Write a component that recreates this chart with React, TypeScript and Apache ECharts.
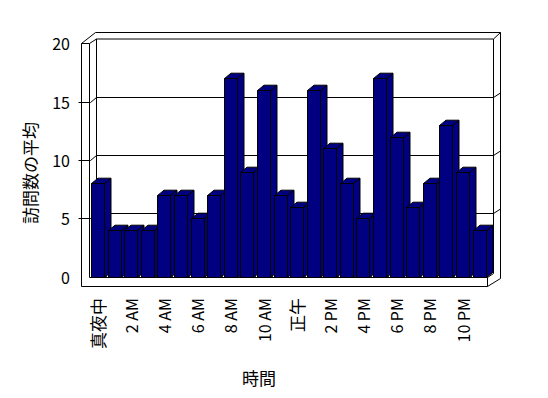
import React, { useEffect, useRef } from "react";
import * as echarts from "echarts";

const categories = [
  "真夜中", "1 AM", "2 AM", "3 AM", "4 AM", "5 AM", "6 AM", "7 AM", "8 AM", "9 AM", "10 AM", "11 AM",
  "正午", "1 PM", "2 PM", "3 PM", "4 PM", "5 PM", "6 PM", "7 PM", "8 PM", "9 PM", "10 PM", "11 PM",
];
const visits = [8, 4, 4, 4, 7, 7, 5, 7, 17, 9, 16, 7, 6, 16, 11, 8, 5, 17, 12, 6, 8, 13, 9, 4];
const gridValues = [5, 10, 15];
const yAxisTitle = "訪問数の平均";
const xAxisTitle = "時間";

const FONT = "'Noto Sans CJK JP', 'Noto Sans', sans-serif";
const BAR_COLOR = "#000080";
const DX = 6.5;
const DY = -5.3;
const BAR_W = 13.4;
const GL = 89.5;
const GRX = 487.5;
const GT = 43.3;
const GB = 276.7;
const W = 548;
const H = 398;

export default function App() {
  const ref = useRef<HTMLDivElement>(null);
  useEffect(() => {
    document.body.style.margin = "0";
    const chart = echarts.init(ref.current!, null, { renderer: "svg" });
    const faceStyle = { fill: BAR_COLOR, stroke: "#000", lineWidth: 1 };
    chart.setOption({
      animation: false,
      backgroundColor: "#ffffff",
      grid: { left: GL, right: W - GRX, top: GT, bottom: H - GB },
      xAxis: {
        type: "category",
        data: categories,
        offset: 9.3,
        axisLine: { show: false },
        axisTick: { show: true, inside: true, length: 9.3, interval: 0, lineStyle: { color: "#000", width: 1 } },
        axisLabel: {
          interval: 1,
          rotate: 90,
          margin: 12,
          fontSize: 16,
          color: "#000",
          fontFamily: FONT,
          formatter: (val: string) => (/[A-Za-z0-9]/.test(val) ? val : `{cjk|${val}}`),
          rich: { cjk: { fontSize: 17, color: "#000", fontFamily: FONT } },
        },
        splitLine: { show: false },
      },
      yAxis: {
        type: "value",
        min: 0,
        max: 20,
        interval: 5,
        offset: 7.5,
        axisLine: { show: false },
        axisTick: { show: false },
        splitLine: { show: false },
        axisLabel: { fontSize: 16, margin: 12, color: "#000", fontFamily: FONT },
      },
      series: [
        {
          type: "custom",
          z: 5,
          data: visits.map((v, i) => [i, v]),
          renderItem: (params: any, api: any) => {
            const i = api.value(0);
            const v = api.value(1);
            const top = api.coord([i, v]);
            const base = api.coord([i, 0]);
            const x0 = Math.round(top[0] - BAR_W / 2) + 0.5;
            const x1 = x0 + Math.round(BAR_W);
            const yT = Math.round(top[1]) + 0.5;
            const yB = Math.round(base[1]) + 0.5;
            return {
              type: "group",
              children: [
                {
                  type: "polygon",
                  shape: { points: [[x1, yT], [x1 + DX, yT + DY], [x1 + DX, yB + DY], [x1, yB]] },
                  style: faceStyle,
                },
                {
                  type: "polygon",
                  shape: { points: [[x0, yT], [x1, yT], [x1 + DX, yT + DY], [x0 + DX, yT + DY]] },
                  style: faceStyle,
                },
                {
                  type: "rect",
                  shape: { x: x0, y: yT, width: x1 - x0, height: yB - yT },
                  style: faceStyle,
                },
              ],
            };
          },
        },
      ],
    });

    const fy = (v: number) => chart.convertToPixel({ yAxisIndex: 0 }, v) as number;
    const yTopF = Math.round(fy(20)) + 0.5;
    const y0 = Math.round(fy(0)) + 0.5;
    const floorBot = y0 + 9;
    const FX = 81.5;
    const WX = 89.5;
    const BX = 96.5;
    const BR = 493.5;
    const OR = 500.5;
    const yTopIn = yTopF - 4.5;
    const yTopOut = yTopF - 11;
    const line = { stroke: "#000", lineWidth: 1, fill: null };
    const poly = (points: number[][]) => ({ type: "polyline", z: 1, shape: { points }, style: line, silent: true });
    const elements: any[] = [
      { type: "rect", z: 0, shape: { x: FX, y: yTopOut, width: OR - FX, height: floorBot - yTopOut }, style: { fill: "#fff" }, silent: true },
      poly([[FX, floorBot], [FX, yTopF], [WX, yTopF], [WX, y0]]),
      poly([[FX, yTopF], [BX - 1, yTopOut], [OR, yTopOut], [OR, floorBot - 8], [GRX, floorBot]]),
      poly([[WX, yTopF], [BX, yTopIn], [BR, yTopIn], [BR, y0 - 4], [GRX, y0]]),
      poly([[BX, yTopIn], [BX, y0 - 4.5]]),
      poly([[BR, yTopIn], [OR, yTopOut]]),
      poly([[FX, floorBot], [GRX, floorBot], [GRX, y0], [WX, y0]]),
    ];
    gridValues.forEach((v) => {
      const y = Math.round(fy(v)) + 0.5;
      const by = y - 5;
      elements.push(poly([[FX - 3, y], [WX + 1, y], [BX, by], [BR, by], [OR, by - 4.5]]));
    });
    elements.push({
      type: "text",
      z: 10,
      x: 29,
      y: 173,
      rotation: Math.PI / 2,
      style: { text: yAxisTitle, fill: "#000", font: `17px ${FONT}`, textAlign: "center", textVerticalAlign: "middle" },
    });
    elements.push({
      type: "text",
      z: 10,
      x: 259,
      y: 377,
      style: { text: xAxisTitle, fill: "#000", font: `17px ${FONT}`, textAlign: "center", textVerticalAlign: "middle" },
    });
    chart.setOption({ graphic: { elements } });

    return () => chart.dispose();
  }, []);
  return <div ref={ref} style={{ width: W, height: H }} />;
}
